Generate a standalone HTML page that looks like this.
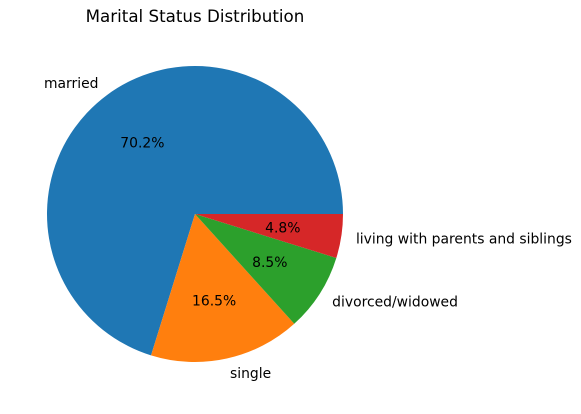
<!DOCTYPE html>
<html><head><meta charset="utf-8"><style>
body{margin:0;background:#fff}
svg text{font-family:"DejaVu Sans","Liberation Sans",sans-serif;font-size:13.9px;fill:#000}
</style></head><body>
<svg id="chart" width="581" height="409" viewBox="0 0 581 409">
<text x="195" y="22" text-anchor="middle" style="font-size:16.7px">Marital Status Distribution</text>
<g id="slices"></g>
</svg>
<script>
const categories = ["married", "single", "divorced/widowed", "living with parents and siblings"];
const values = [70.2, 16.5, 8.5, 4.8];
const pctLabels = ["70.2%", "16.5%", "8.5%", "4.8%"];
const colors = ["#1f77b4", "#ff7f0e", "#2ca02c", "#d62728"];
const cx = 195, cy = 214, r = 148;
const g = document.getElementById('slices');
const NS = "http://www.w3.org/2000/svg";
const total = values.reduce((a,b)=>a+b,0);
function pt(deg, rr){const a=deg*Math.PI/180;return [cx+rr*Math.cos(a), cy-rr*Math.sin(a)];}
let start = 0;
values.forEach((v,i)=>{
  const sweep = v/total*360, end = start+sweep;
  const [x1,y1]=pt(start,r), [x2,y2]=pt(end,r);
  const p=document.createElementNS(NS,'path');
  p.setAttribute('d',`M${cx},${cy} L${x1},${y1} A${r},${r} 0 ${sweep>180?1:0} 0 ${x2},${y2} Z`);
  p.setAttribute('fill',colors[i]);
  
  
  g.appendChild(p);
  const mid=(start+end)/2;
  const [lx,ly]=pt(mid,r*1.1);
  const t=document.createElementNS(NS,'text');
  t.setAttribute('x',lx);t.setAttribute('y',ly+5);
  t.setAttribute('text-anchor', lx>=cx?'start':'end');
  t.textContent=categories[i];
  
  
  g.appendChild(t);
  const [px,py]=pt(mid,r*0.6);
  const t2=document.createElementNS(NS,'text');
  t2.setAttribute('x',px);t2.setAttribute('y',py+5);
  t2.setAttribute('text-anchor','middle');
  t2.textContent=pctLabels[i];
  
  
  g.appendChild(t2);
  start=end;
});
</script>
</body></html>
